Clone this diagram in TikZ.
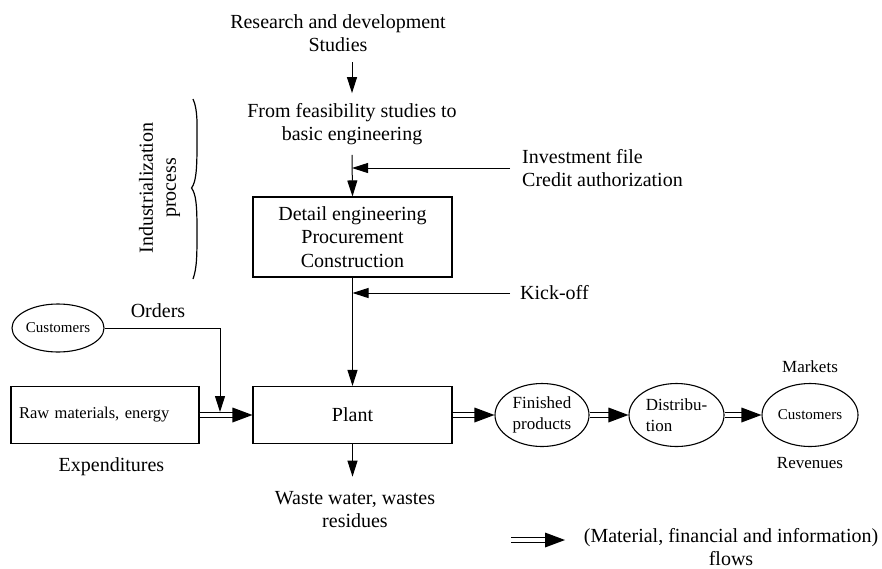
\documentclass[tikz,border=0pt]{standalone}
\usepackage{fontspec}
\setmainfont{Liberation Serif}
\usetikzlibrary{arrows.meta,shapes.geometric,decorations.markings}
\tikzset{
  txt/.style={font=\fontsize{20}{23}\selectfont, inner sep=0pt, align=center},
  stxt/.style={font=\fontsize{17}{21}\selectfont, inner sep=0pt, align=center},
  boxn/.style={draw, line width=1.1pt, font=\fontsize{20}{23.5}\selectfont, align=center, inner sep=0pt},
  ell/.style={draw, line width=1.1pt, ellipse, inner sep=0pt, minimum width=94pt, minimum height=63pt, font=\fontsize{17}{21}\selectfont, align=left},
  arr/.style={-{Triangle[length=16pt,width=10pt]}, line width=1pt},
  dbl/.style={draw=black, line width=5.5pt, shorten >=18pt,
    postaction={draw=white, line width=3.5pt, shorten >=17pt},
    postaction={decorate, decoration={markings, mark=at position 1 with {\fill[black] (0pt,0pt) -- (-20pt,7.5pt) -- (-20pt,-7.5pt) -- cycle;}}}},
}
\begin{document}
\begin{tikzpicture}[x=1pt,y=-1pt]
\useasboundingbox (0,0) rectangle (882,568);

% top chain
\node[txt, inner ysep=10pt] (rd) at (338,33.5) {Research and development\\Studies};
\node[txt, inner ysep=10pt] (ffs) at (352,124) {From feasibility studies to\\basic engineering};
\node[boxn, minimum width=199pt, minimum height=80pt] (dep) at (352.5,237) {Detail engineering\\Procurement\\Construction};
\node[boxn, minimum width=199pt, minimum height=57pt] (plant) at (352.5,415) {Plant};

\draw[arr] (rd.south -| ffs.north) -- (ffs.north);
\draw[arr] (ffs.south) -- (dep.north);
\draw[arr] (dep.south) -- (plant.north);

% side inputs
\node[txt, align=left, anchor=west, inner xsep=12pt] (inv) at (510,168) {Investment file\\Credit authorization};
\draw[arr] (inv.west) -- (inv.west -| ffs.south);
\node[txt, anchor=west, inner xsep=10pt] (ko) at (510,293) {Kick-off};
\draw[arr] (ko.west) -- (ko.west -| dep.south);

% industrialization brace
\node[txt, rotate=90] (ind) at (159.5,188) {Industrialization\\process};
\draw[line width=1.2pt] (193,99) .. controls (198,110) and (197,125) .. (197,145)
  .. controls (197,170) and (196,182) .. (191.5,188)
  .. controls (196,194) and (197,205) .. (197,230)
  .. controls (197,255) and (197,268) .. (193,279);

% left side
\node[draw, line width=1.1pt, minimum width=188pt, minimum height=57pt, inner xsep=8pt, inner ysep=0pt, text width=172pt, align=left, font=\fontsize{16.5}{20}\selectfont] (raw) at (105,415) {Raw materials, energy};
\node[txt] (exp) at (111.5,467) {Expenditures};
\node[draw, line width=1.1pt, ellipse, inner sep=0pt, minimum width=92pt, minimum height=48pt, font=\fontsize{15}{18}\selectfont] (custL) at (58,328) {Customers};
\node[txt] (ord) at (158,311) {Orders};
\coordinate (oj) at (220,412);
\draw[dbl] (raw.east) -- (plant.west);
\draw[arr] (custL.east) -| (oj);

% waste
\node[txt, inner ysep=15pt] (waste) at (355,510) {Waste water, wastes\\residues};
\draw[arr] (plant.south) -- (plant.south |- waste.north);

% right side
\node[ell] (fin) at (542,415) {Finished\\products};
\node[ell, minimum width=95pt] (dist) at (676.5,415) {Distribu-\\tion};
\node[ell, minimum width=96pt, font=\fontsize{15}{18}\selectfont] (custR) at (810,415) {Customers};
\node[stxt] (mkt) at (810,367) {Markets};
\node[stxt] (rev) at (810,463) {Revenues};
\draw[dbl] (plant.east) -- (fin.west);
\draw[dbl] (fin.east) -- (dist.west);
\draw[dbl] (dist.east) -- (custR.west);

% legend
\coordinate (l1) at (511,540);
\coordinate (l2) at (565,540);
\draw[dbl] (l1) -- (l2);
\node[txt] (leg) at (731,547) {(Material, financial and information)\\flows};
\end{tikzpicture}
\end{document}
